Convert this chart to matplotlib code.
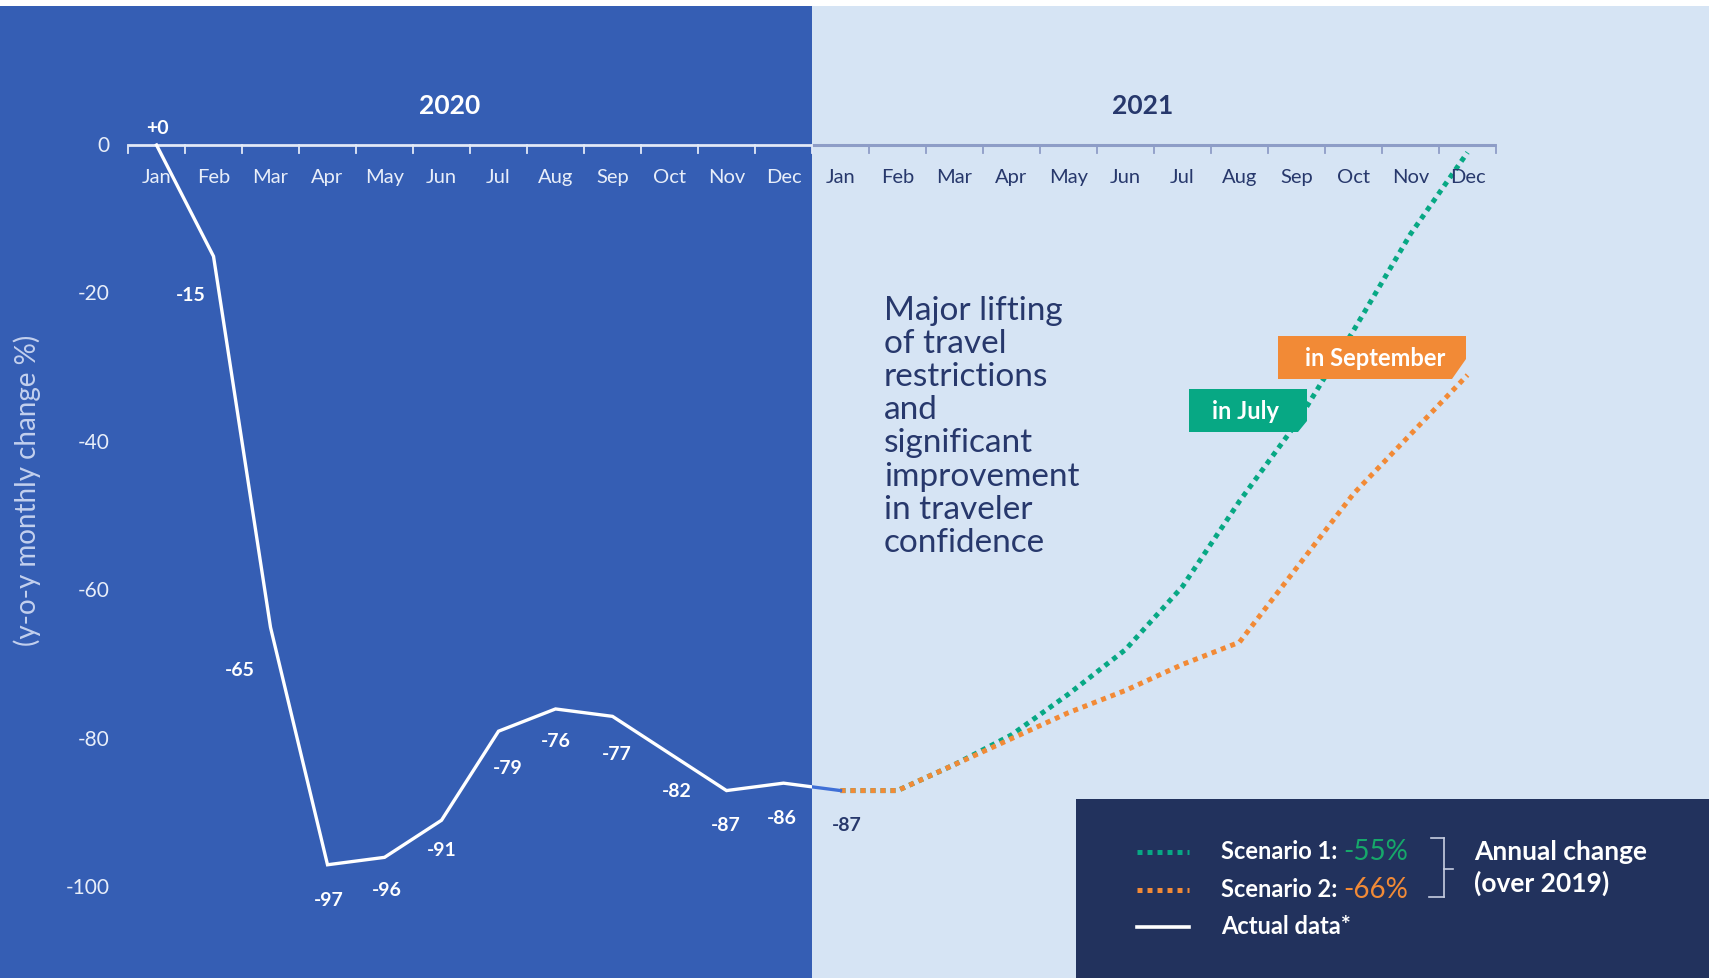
import numpy as np
import matplotlib
matplotlib.use("Agg")
import matplotlib.pyplot as plt
from matplotlib.patches import Rectangle, Polygon
from matplotlib.lines import Line2D

# ---------------- data ----------------
months = ["Jan", "Feb", "Mar", "Apr", "May", "Jun",
          "Jul", "Aug", "Sep", "Oct", "Nov", "Dec"] * 2
years = ["2020", "2021"]
# actual data Jan 2020 .. Jan 2021
actual = [0, -15, -65, -97, -96, -91, -79, -76, -77, -82, -87, -86, -87]
actual_labels = ["+0", "-15", "-65", "-97", "-96", "-91", "-79", "-76",
                 "-77", "-82", "-87", "-86", "-87"]
# scenarios Jan 2021 .. Dec 2021
scenario1 = [-87, -87, -83.5, -79.5, -74, -68, -59.5, -48, -37.5, -25, -12, -1]
scenario2 = [-87, -87, -83.5, -80, -76.5, -73.5, -70, -67, -57, -47, -39, -31]
yticks = [0, -20, -40, -60, -80, -100]
legend_names = ["Scenario 1: ", "Scenario 2: ", "Actual data*"]
annual_change = ["-55%", "-66%"]

# ---------------- styling ----------------
DARK = "#355eb4"
LIGHT = "#d6e4f4"
NAVY_BOX = "#22325d"
GREEN = "#07a884"
ORANGE = "#f28a36"
TXT_LIGHT = "#e8eef9"
TXT_NAVY = "#27386c"
AX_LIGHT = "#e2e9f7"
AX_GREY = "#8e9dc7"
FONT = ["Lato", "DejaVu Sans"]
plt.rcParams["font.family"] = FONT

W, H = 1709, 979
fig = plt.figure(figsize=(W / 100, H / 100), dpi=100)
fig.patch.set_facecolor("white")
ax = fig.add_axes([0, 0, 1, 1])
ax.set_xlim(-2.746, 27.237)
ax.set_ylim(-112.26, 19.68)
ax.axis("off")
ax.patch.set_alpha(0)


def P(px, py):
    """pixel position -> axes fraction"""
    return (px / W, 1 - py / H)


n20 = 12
boundary = n20 - 0.5
xl = ax.get_xlim()
yl = ax.get_ylim()
top_frac = 1 - 7 / H

# backgrounds
ax.axvspan(xl[0], boundary, ymin=0, ymax=top_frac, color=DARK, lw=0, zorder=0)
ax.axvspan(boundary, xl[1], ymin=0, ymax=top_frac, color=LIGHT, lw=0, zorder=0)

# axis line at 0 with ticks
n = len(months)
ax.plot([-0.5, boundary], [0, 0], color=AX_LIGHT, lw=2.0, zorder=2,
        solid_capstyle="butt")
ax.plot([boundary, n - 0.5], [0, 0], color=AX_GREY, lw=2.2, zorder=2,
        solid_capstyle="butt")
for i in range(n + 1):
    x = i - 0.5
    c = AX_LIGHT if x <= boundary else AX_GREY
    ax.plot([x, x], [0, -1.1], color=c, lw=1.3, zorder=2)

# month labels
for i, m in enumerate(months):
    c = TXT_LIGHT if i < n20 else TXT_NAVY
    ax.text(i, -4.3, m, ha="center", va="center", fontsize=14.5,
            color=c, zorder=5)

# year labels
ax.text(5.15, 5.4, years[0], ha="center", va="center", fontsize=19,
        fontweight="bold", color="white", zorder=5)
ax.text(17.3, 5.4, years[1], ha="center", va="center", fontsize=19,
        fontweight="bold", color=TXT_NAVY, zorder=5)

# y tick labels
for v in yticks:
    ax.text(-0.82, v, f"{v}", ha="right", va="center", fontsize=15,
            color=TXT_LIGHT, zorder=5)
ax.text(-2.27, -46.4, "(y-o-y monthly change %)", rotation=90,
        ha="center", va="center", fontsize=20, color="#c3d0ee",
        zorder=5)

# scenario lines
xs = np.arange(n20, n20 + len(scenario1))
ax.plot(xs, scenario1, color=GREEN, lw=3.6, linestyle=(0, (1, 1)),
        dash_capstyle="butt", zorder=3)
ax.plot(xs, scenario2, color=ORANGE, lw=3.6, linestyle=(0, (1, 1)),
        dash_capstyle="butt", zorder=3)

# actual line: white on dark, blue on light background
xa = np.arange(len(actual))
lw_line, = ax.plot(xa, actual, color="white", lw=2.4, zorder=4,
                   solid_joinstyle="miter")
lb_line, = ax.plot(xa, actual, color="#3f6fd6", lw=2.4, zorder=4)
clip_l = Rectangle((xl[0], yl[0]), boundary - xl[0], yl[1] - yl[0],
                   transform=ax.transData)
clip_r = Rectangle((boundary, yl[0]), xl[1] - boundary, yl[1] - yl[0],
                   transform=ax.transData)
lw_line.set_clip_path(clip_l)
lb_line.set_clip_path(clip_r)

# value labels (offsets in pixels)
offsets = [(1, 18), (-23, -38), (-31, -42), (1, -35), (2, -32), (0, -29),
           (9, -36), (0, -32), (4, -37), (7, -37), (-1, -34), (-2, -34),
           (6, -34)]
for i, (v, lab) in enumerate(zip(actual, actual_labels)):
    c = "white" if i < n20 else TXT_NAVY
    ax.annotate(lab, (i, v), xytext=offsets[i], textcoords="offset pixels",
                ha="center", va="center", fontsize=14, fontweight="bold",
                color=c, zorder=6)

# annotation text
ax.text(12.76, -20.2,
        "Major lifting\nof travel\nrestrictions\nand\nsignificant\nimprovement\nin traveler\nconfidence",
        ha="left", va="top", fontsize=24, color=TXT_NAVY,
        linespacing=1.13, zorder=5)

# tags
july_pts = [P(1189, 390), P(1307, 390), P(1307, 422), P(1298, 433), P(1189, 433)]
sep_pts = [P(1278, 337), P(1466, 337), P(1466, 360), P(1452, 380), P(1278, 380)]
ax.add_patch(Polygon(july_pts, closed=True, transform=ax.transAxes,
                     facecolor=GREEN, edgecolor="none", zorder=7))
ax.add_patch(Polygon(sep_pts, closed=True, transform=ax.transAxes,
                     facecolor=ORANGE, edgecolor="none", zorder=7))
ax.text(*P(1245, 412), "in July", transform=ax.transAxes, ha="center",
        va="center", fontsize=17, fontweight="bold", color="white", zorder=8)
ax.text(*P(1375, 359), "in September", transform=ax.transAxes, ha="center",
        va="center", fontsize=17, fontweight="bold", color="white", zorder=8)

# legend box
bx, by = P(1076, 979)
ax.add_patch(Rectangle((bx, by), 1 - bx, (979 - 800) / H,
                       transform=ax.transAxes, facecolor=NAVY_BOX,
                       edgecolor="none", zorder=7))
sample_x = [1137 / W, 1189 / W]
ax.add_line(Line2D(sample_x, [P(0, 853)[1]] * 2, transform=ax.transAxes,
                   color=GREEN, lw=3.6, linestyle=(0, (1, 1)),
                   dash_capstyle="butt", zorder=8))
ax.add_line(Line2D(sample_x, [P(0, 891)[1]] * 2, transform=ax.transAxes,
                   color=ORANGE, lw=3.6, linestyle=(0, (1, 1)),
                   dash_capstyle="butt", zorder=8))
ax.add_line(Line2D(sample_x, [P(0, 928)[1]] * 2, transform=ax.transAxes,
                   color="white", lw=2.6, zorder=8))
t1 = ax.text(*P(1221, 852), legend_names[0], transform=ax.transAxes,
             ha="left", va="center", fontsize=17, fontweight="bold",
             color="white", zorder=9)
t2 = ax.text(*P(1221, 890), legend_names[1], transform=ax.transAxes,
             ha="left", va="center", fontsize=17, fontweight="bold",
             color="white", zorder=9)
ax.text(*P(1221, 927), legend_names[2], transform=ax.transAxes,
        ha="left", va="center", fontsize=17, fontweight="bold",
        color="white", zorder=9)
ax.annotate(annual_change[0], xy=(1, 0.5), xycoords=t1, ha="left",
            va="center", fontsize=20, color="#16a86a", zorder=9)
ax.annotate(annual_change[1], xy=(1, 0.5), xycoords=t2, ha="left",
            va="center", fontsize=20, color=ORANGE, zorder=9)
# bracket
bc = "#c7cee0"
for seg in [((1431, 839), (1444, 839)), ((1444, 839), (1444, 898)),
            ((1429, 898), (1444, 898)), ((1444, 870), (1453, 870))]:
    (a, b) = seg
    pa, pb = P(*a), P(*b)
    ax.add_line(Line2D([pa[0], pb[0]], [pa[1], pb[1]], transform=ax.transAxes,
                       color=bc, lw=1.2, zorder=9))
ax.text(*P(1474, 852), "Annual change", transform=ax.transAxes, ha="left",
        va="center", fontsize=19, fontweight="bold", color="white", zorder=9)
ax.text(*P(1474, 883), "(over 2019)", transform=ax.transAxes, ha="left",
        va="center", fontsize=19, fontweight="bold", color="white", zorder=9)

fig.savefig("out.png", dpi=100, facecolor=fig.get_facecolor())
